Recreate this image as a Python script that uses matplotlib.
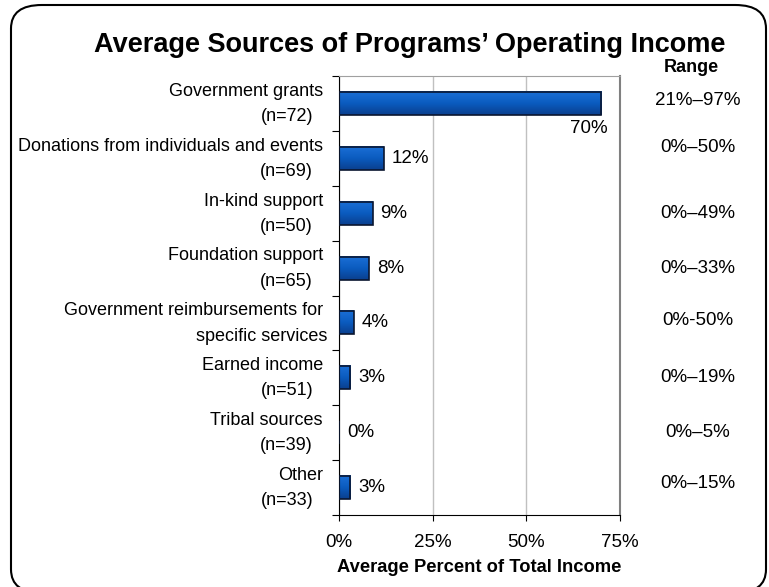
import matplotlib
matplotlib.use("Agg")
import matplotlib.pyplot as plt
import numpy as np
from matplotlib.patches import FancyBboxPatch
from matplotlib.colors import LinearSegmentedColormap
import matplotlib.transforms as mtransforms

plt.rcParams['font.family'] = ['Liberation Sans', 'DejaVu Sans']

# data
categories = [
    ("Government grants", "(n=72)"),
    ("Donations from individuals and events", "(n=69)"),
    ("In-kind support", "(n=50)"),
    ("Foundation support", "(n=65)"),
    ("Government reimbursements for", "specific services"),
    ("Earned income", "(n=51)"),
    ("Tribal sources", "(n=39)"),
    ("Other", "(n=33)"),
]
values = [70, 12, 9, 8, 4, 3, 0, 3]
ranges = ["21%\u201397%", "0%\u201350%", "0%\u201349%", "0%\u201333%",
          "0%-50%", "0%\u201319%", "0%\u20135%", "0%\u201315%"]
xticks = [0, 25, 50, 75]

# small vertical nudges for the range column (rows in axis units)
range_nudge = [-0.05, -0.2, 0, 0, -0.05, 0, 0, -0.07]

fig = plt.figure(figsize=(7.69, 5.87), dpi=100)
ax = fig.add_axes([339 / 769, 1 - 515 / 587, 281 / 769, 439 / 587])

n = len(values)
ypos = np.arange(n)
bar_h = 0.42

# gradient fill for the bars, outline drawn by barh on top
grad_cmap = LinearSegmentedColormap.from_list("bluegrad", ['#1b6fd6', '#0b5cc0', '#0a3f8e'])
grad = np.linspace(0, 1, 64).reshape(-1, 1)
for i, v in enumerate(values):
    if v > 0:
        ax.imshow(grad, extent=[0, v, i + bar_h / 2, i - bar_h / 2], cmap=grad_cmap,
                  aspect='auto', interpolation='bilinear', zorder=2)
ax.barh(ypos, values, height=bar_h, color='none', edgecolor='#0a1630', linewidth=1.2, zorder=3)

ax.set_xlim(0, 75)
ax.set_ylim(n - 0.5, -0.5)
ax.set_xticks(xticks)
ax.set_xticklabels([f"{t}%" for t in xticks], fontsize=13.5)
ax.tick_params(axis='x', length=4, pad=10)
ax.set_yticks([i - 0.5 for i in range(n + 1)])
ax.set_yticklabels([])
ax.tick_params(axis='y', length=5, direction='out')

ax.grid(axis='x', color='#c0c0c0', linewidth=1, zorder=0)
ax.spines['top'].set_color('#a0a0a0')
ax.spines['right'].set_color('#808080')
ax.spines['right'].set_linewidth(1.5)

ax.set_xlabel("Average Percent of Total Income", fontsize=13.2, fontweight='bold')
ax.xaxis.set_label_coords(0.5, -(567 - 515) / 439, transform=ax.transAxes)
ax.xaxis.label.set_va('center')

# value labels
for i, v in enumerate(values):
    if v > 50:
        ax.text(v + 1.8, i + 0.45, f"{v}%", ha='right', va='center', fontsize=13.5)
    else:
        ax.text(v + 2.1, i, f"{v}%", ha='left', va='center', fontsize=13.5)

# category labels (two lines, right aligned)
lbl = mtransforms.blended_transform_factory(fig.transFigure, ax.transData)
for i, (l1, l2) in enumerate(categories):
    ax.text(323 / 769, i - 0.22, l1, transform=lbl, ha='right', va='center', fontsize=13)
    x2 = 327 / 769 if not l2.startswith("(") else 313 / 769
    ax.text(x2, i + 0.24, l2, transform=lbl, ha='right', va='center', fontsize=13)

# range column
for i, r in enumerate(ranges):
    ax.text(698 / 769, i + range_nudge[i], r, transform=lbl, ha='center', va='center', fontsize=13.5)
fig.text(691 / 769, 1 - 67 / 587, "Range", ha='center', va='center', fontsize=13, fontweight='bold')

fig.text(410 / 769, 1 - 45 / 587, "Average Sources of Programs\u2019 Operating Income",
         ha='center', va='center', fontsize=19.5, fontweight='bold')

# rounded frame
box = FancyBboxPatch((11 / 769, -0.01), 755 / 769, 1 - 5 / 587 + 0.01,
                     boxstyle="round,pad=0,rounding_size=0.04",
                     transform=fig.transFigure, fill=False, edgecolor='black',
                     linewidth=1.5, clip_on=False)
fig.patches.append(box)

fig.savefig("out.png", dpi=100)
